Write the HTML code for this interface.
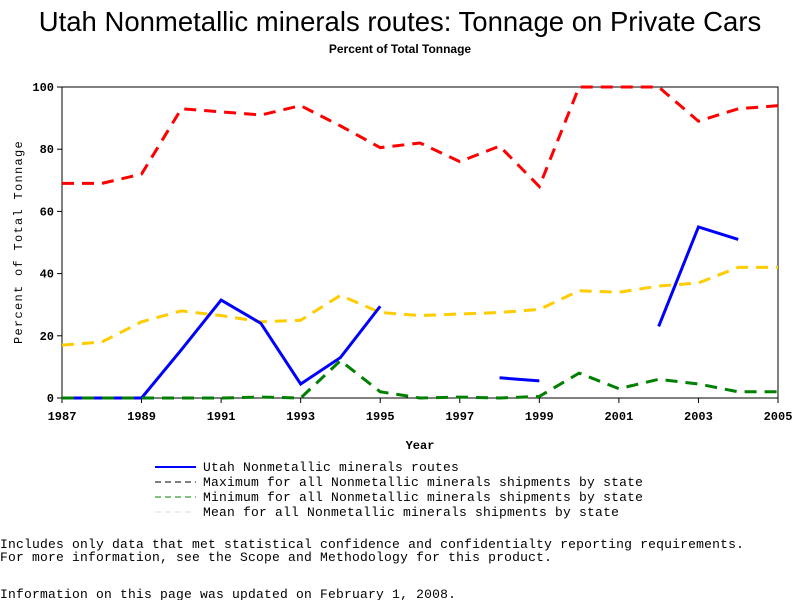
<!DOCTYPE html>
<html><head><meta charset="utf-8"><style>
body{margin:0;background:#fff;width:800px;height:600px;overflow:hidden}
svg text{font-family:"Liberation Mono",monospace}
</style></head><body>
<svg width="800" height="600" xmlns="http://www.w3.org/2000/svg">
<text x="400" y="31" text-anchor="middle" style="font-family:'Liberation Sans',sans-serif;font-size:27.5px">Utah Nonmetallic minerals routes: Tonnage on Private Cars</text>
<text x="400" y="53" text-anchor="middle" style="font-family:'Liberation Sans',sans-serif;font-size:12px;font-weight:bold">Percent of Total Tonnage</text>
<g id="plot"></g>
<text x="420" y="449" text-anchor="middle" font-size="12" font-weight="bold">Year</text>
<text transform="translate(22,242) rotate(-90)" text-anchor="middle" font-size="12" letter-spacing="1.3">Percent of Total Tonnage</text>
<g font-size="13" letter-spacing="0.2">
<line x1="155" y1="467" x2="196" y2="467" stroke="#0000ff" stroke-width="2"/>
<text x="203" y="471">Utah Nonmetallic minerals routes</text>
<line x1="155" y1="482" x2="196" y2="482" stroke="#000" stroke-dasharray="6,4"/>
<text x="203" y="486">Maximum for all Nonmetallic minerals shipments by state</text>
<line x1="155" y1="497" x2="196" y2="497" stroke="#008000" stroke-dasharray="6,4"/>
<text x="203" y="501">Minimum for all Nonmetallic minerals shipments by state</text>
<line x1="155" y1="512" x2="196" y2="512" stroke="#ddd" stroke-dasharray="6,4"/>
<text x="203" y="516">Mean for all Nonmetallic minerals shipments by state</text>
</g>
<g font-size="13" letter-spacing="0.2">
<text x="0" y="548">Includes only data that met statistical confidence and confidentialty reporting requirements.</text>
<text x="0" y="561">For more information, see the Scope and Methodology for this product.</text>
<text x="0" y="598">Information on this page was updated on February 1, 2008.</text>
</g>
</svg>
<script>
const years=[1987,1988,1989,1990,1991,1992,1993,1994,1995,1996,1997,1998,1999,2000,2001,2002,2003,2004,2005];
const maxVals=[69,69,72,93,92,91,94,87.5,80.5,82,76,81,68,100,100,100,89,93,94];
const meanVals=[17,18,24.5,28,26.5,24.5,25,33,27.5,26.5,27,27.5,28.5,34.5,34,36,37,42,42];
const minVals=[0,0,0,0,0,0.3,0,12,2,0,0.3,0,0.5,8,3,6,4.5,2,2];
const utahVals=[0,0,0,15.5,31.5,24,4.5,13,29.5,null,null,6.5,5.5,null,null,23,55,51,null];
const yTicks=[0,20,40,60,80,100];
const xTicks=[1987,1989,1991,1993,1995,1997,1999,2001,2003,2005];
const NS="http://www.w3.org/2000/svg";
const X0=62,X1=778,Y0=398,Y1=87;
const xs=y=>X0+(y-1987)*(X1-X0)/18;
const ys=v=>Y0-v*(Y0-Y1)/100;
const g=document.getElementById('plot');
function el(t,a){const e=document.createElementNS(NS,t);for(const k in a)e.setAttribute(k,a[k]);g.appendChild(e);return e;}
const frame=el('rect',{x:X0,y:Y1,width:X1-X0,height:Y0-Y1,fill:'none',stroke:'#000'});


yTicks.forEach(v=>{
 const l=el('line',{x1:X0-5,x2:X0,y1:ys(v),y2:ys(v),stroke:'#000'});
 
 
 const t=el('text',{x:X0-8,y:ys(v)+4,'text-anchor':'end','font-size':'12','font-weight':'bold'});
 t.textContent=v;
 
 
});
xTicks.forEach(v=>{
 const l=el('line',{x1:xs(v),x2:xs(v),y1:Y0,y2:Y0+5,stroke:'#000'});
 
 
 const t=el('text',{x:xs(v),y:Y0+22,'text-anchor':'middle','font-size':'12','font-weight':'bold'});
 t.textContent=v;
 
 
});
function series(vals,color,dash,name){
 let segs=[],cur=[];
 vals.forEach((v,i)=>{if(v==null){if(cur.length)segs.push(cur);cur=[];}else cur.push(xs(years[i])+','+ys(v));});
 if(cur.length)segs.push(cur);
 segs.forEach(s=>{
  const p=el('polyline',{points:s.join(' '),fill:'none',stroke:color,'stroke-width':'3'});
  if(dash)p.setAttribute('stroke-dasharray',dash);
  
  
 });
}
series(maxVals,'#ff0000','12,8','max-line');
series(meanVals,'#ffcc00','12,8','mean-line');
series(utahVals,'#0000ff',null,'utah-line');
series(minVals,'#008000','12,8','min-line');
</script>
</body></html>
